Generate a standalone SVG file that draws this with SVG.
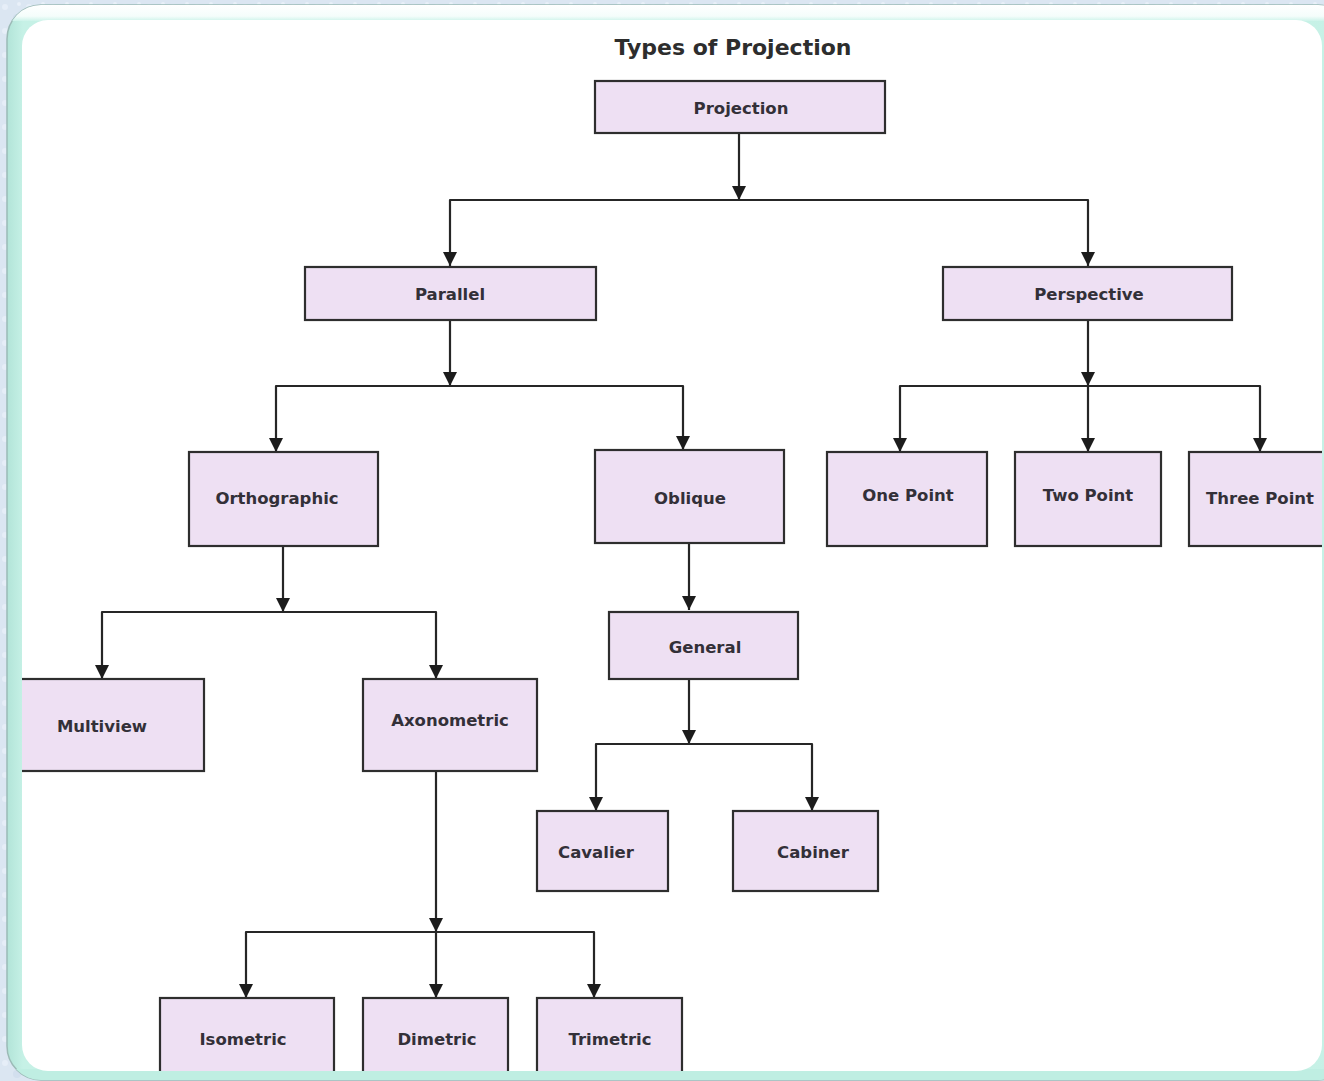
<svg xmlns="http://www.w3.org/2000/svg" width="1324" height="1081" viewBox="0 0 1324 1081">
  <defs>
    <style>
      .node rect { fill: #eee0f3; stroke: #2e2e2e; stroke-width: 2.2; }
      .node text { font-family: "DejaVu Sans", "Liberation Sans", sans-serif; font-weight: bold; font-size: 16.5px; fill: #333038; text-anchor: middle; }
      .title { font-family: "DejaVu Sans", "Liberation Sans", sans-serif; font-weight: bold; font-size: 22px; fill: #2d2d2d; text-anchor: middle; }
      #connectors path { fill: none; stroke: #262626; stroke-width: 2.2; stroke-linejoin: round; }
      #connectors path.arrow { marker-end: url(#head); }
    </style>
    <marker id="head" viewBox="0 0 14 14" refX="14" refY="7" markerWidth="14" markerHeight="14" markerUnits="userSpaceOnUse" orient="auto">
      <path d="M0,0 L14,7 L0,14 Z" fill="#1c1c1c"/>
    </marker>
    <linearGradient id="topBevel" x1="0" y1="0" x2="0" y2="1">
      <stop offset="0" stop-color="#ffffff"/>
      <stop offset="0.7" stop-color="#f4fdfb"/>
      <stop offset="1" stop-color="#cdf3ea"/>
    </linearGradient>
    <linearGradient id="sideBevel" x1="0" y1="0" x2="1" y2="0">
      <stop offset="0" stop-color="#b2e4d8"/>
      <stop offset="0.012" stop-color="#c6f1e6"/>
      <stop offset="0.5" stop-color="#cdf3ea"/>
      <stop offset="1" stop-color="#c6f1e6"/>
    </linearGradient>
    <clipPath id="frameClip">
      <rect x="7" y="5" width="1345" height="1075" rx="34"/>
    </clipPath>
    <clipPath id="canvasClip">
      <rect x="22" y="20" width="1300" height="1051" rx="26"/>
    </clipPath>
    <pattern id="paper" width="24" height="24" patternUnits="userSpaceOnUse">
      <rect width="24" height="24" fill="#dbe6f2"/>
      <circle cx="5" cy="7" r="3" fill="#e6eef8"/>
      <circle cx="17" cy="18" r="4" fill="#d2dfee"/>
      <circle cx="19" cy="4" r="2" fill="#e9f0f9"/>
    </pattern>
  </defs>

  <!-- backdrop -->
  <rect width="1324" height="1081" fill="url(#paper)"/>

  <!-- bevelled frame -->
  <rect x="7" y="5" width="1345" height="1075" rx="34" fill="url(#sideBevel)" stroke="#9bbab6" stroke-width="1.5"/>
  <g clip-path="url(#frameClip)">
    <rect x="7" y="5" width="1345" height="16" fill="url(#topBevel)"/>
    <rect x="7" y="1069" width="1345" height="12" fill="#bfeee2"/>
  </g>
  <rect x="22" y="20" width="1300" height="1051" rx="26" fill="#ffffff"/>

  <g clip-path="url(#canvasClip)">
    <text class="title" x="733" y="55">Types of Projection</text>

    <!-- connectors -->
    <g id="connectors">
      <path class="arrow" d="M739,133 V200"/>
      <path class="arrow" d="M739,200 H450 V266"/>
      <path class="arrow" d="M739,200 H1088 V266"/>

      <path class="arrow" d="M450,320 V386"/>
      <path class="arrow" d="M450,386 H276 V452"/>
      <path class="arrow" d="M450,386 H683 V450"/>

      <path class="arrow" d="M1088,320 V386"/>
      <path class="arrow" d="M1088,386 H900 V452"/>
      <path class="arrow" d="M1088,386 V452"/>
      <path class="arrow" d="M1088,386 H1260 V452"/>

      <path class="arrow" d="M283,546 V612"/>
      <path class="arrow" d="M283,612 H102 V679"/>
      <path class="arrow" d="M283,612 H436 V679"/>

      <path class="arrow" d="M436,771 V932"/>
      <path class="arrow" d="M436,932 H246 V998"/>
      <path class="arrow" d="M436,932 V998"/>
      <path class="arrow" d="M436,932 H594 V998"/>

      <path class="arrow" d="M689,543 V610"/>

      <path class="arrow" d="M689,679 V744"/>
      <path class="arrow" d="M689,744 H596 V811"/>
      <path class="arrow" d="M689,744 H812 V811"/>
    </g>

    <!-- nodes -->
    <g id="projection" class="node"><rect x="595" y="81" width="290" height="52"/><text x="741" y="114">Projection</text></g>
    <g id="parallel" class="node"><rect x="305" y="267" width="291" height="53"/><text x="450" y="300">Parallel</text></g>
    <g id="perspective" class="node"><rect x="943" y="267" width="289" height="53"/><text x="1089" y="300">Perspective</text></g>
    <g id="orthographic" class="node"><rect x="189" y="452" width="189" height="94"/><text x="277" y="504">Orthographic</text></g>
    <g id="oblique" class="node"><rect x="595" y="450" width="189" height="93"/><text x="690" y="504">Oblique</text></g>
    <g id="one-point" class="node"><rect x="827" y="452" width="160" height="94"/><text x="908" y="501">One Point</text></g>
    <g id="two-point" class="node"><rect x="1015" y="452" width="146" height="94"/><text x="1088" y="501">Two Point</text></g>
    <g id="three-point" class="node"><rect x="1189" y="452" width="160" height="94"/><text x="1260" y="504">Three Point</text></g>
    <g id="multiview" class="node"><rect x="0" y="679" width="204" height="92"/><text x="102" y="732">Multiview</text></g>
    <g id="axonometric" class="node"><rect x="363" y="679" width="174" height="92"/><text x="450" y="726">Axonometric</text></g>
    <g id="general" class="node"><rect x="609" y="612" width="189" height="67"/><text x="705" y="653">General</text></g>
    <g id="cavalier" class="node"><rect x="537" y="811" width="131" height="80"/><text x="596" y="858">Cavalier</text></g>
    <g id="cabiner" class="node"><rect x="733" y="811" width="145" height="80"/><text x="813" y="858">Cabiner</text></g>
    <g id="isometric" class="node"><rect x="160" y="998" width="174" height="100"/><text x="243" y="1045">Isometric</text></g>
    <g id="dimetric" class="node"><rect x="363" y="998" width="145" height="100"/><text x="437" y="1045">Dimetric</text></g>
    <g id="trimetric" class="node"><rect x="537" y="998" width="145" height="100"/><text x="610" y="1045">Trimetric</text></g>
  </g>
</svg>
